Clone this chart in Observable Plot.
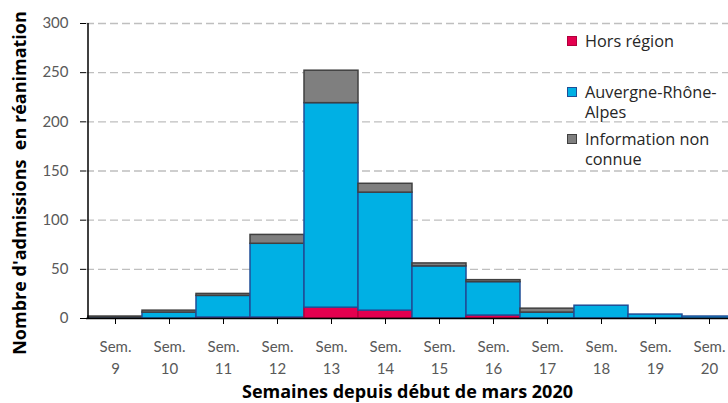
<!DOCTYPE html>
<html><head><meta charset="utf-8">
<script src="https://cdn.jsdelivr.net/npm/d3@7"></script>
<script src="https://cdn.jsdelivr.net/npm/@observablehq/plot@0.6"></script>
<style>
html,body{margin:0;padding:0;overflow:hidden;background:#fff;}
#wrap{position:relative;width:728px;height:403px;font-family:Lato,sans-serif;overflow:hidden;}
.leg{position:absolute;left:567px;width:160px;font-family:"Open Sans",sans-serif;font-size:16.3px;color:#262626;line-height:20px;}
.leg .sw{position:absolute;left:0;top:5px;width:8px;height:8px;border:1px solid;}
.leg .tx{position:absolute;left:18px;width:142px;}
</style></head><body><div id="wrap"></div>
<script>
const weeks = [9, 10, 11, 12, 13, 14, 15, 16, 17, 18, 19, 20];
const series = ["Hors région", "Auvergne-Rhône-Alpes", "Information non connue"];
const horsRegion = [0, 0, 1, 1, 11, 8, 0, 3, 0, 0, 0, 0];
const auvergneRhoneAlpes = [1, 6, 22, 75, 208, 120, 53, 34, 6, 13, 4, 2];
const infoNonConnue = [1, 2, 2, 9, 33, 9, 3, 2, 4, 0, 0, 0];
const yTicks = [0, 50, 100, 150, 200, 250, 300];
const yTitle = "Nombre d'admissions  en réanimation";
const xTitle = "Semaines depuis début de mars 2020";

const fills = ["#E4004F", "#00B0E4", "#7F7F7F"];
const strokes = ["#B0003C", "#1F4E96", "#404040"];
const valuesBySeries = [horsRegion, auvergneRhoneAlpes, infoNonConnue];

const rows = weeks.flatMap((w, i) => series.map((s, j) => ({week: w, series: s, value: valuesBySeries[j][i]})))
  .filter(d => d.value > 0);

const yAxisLine = (index, scales, values, dims) => {
  const l = document.createElementNS("http://www.w3.org/2000/svg", "line");
  const x = scales.x(weeks[0]);
  l.setAttribute("x1", x); l.setAttribute("x2", x);
  l.setAttribute("y1", scales.y(0)); l.setAttribute("y2", scales.y(300));
  l.setAttribute("stroke", "#000"); l.setAttribute("stroke-width", 1.5);
  return l;
};

const chart = Plot.plot({
  width: 728,
  height: 403,
  marginLeft: 86,
  marginTop: 23,
  marginBottom: 85,
  marginRight: 0,
  style: {fontFamily: "Lato, sans-serif", background: "#fff", overflow: "hidden"},
  x: {type: "band", domain: weeks, range: [86, 737.6], padding: 0},
  y: {domain: [0, 300], range: [318, 23]},
  color: {type: "identity"},
  marks: [
    Plot.ruleY(yTicks.filter(t => t > 0), {stroke: "#BFBFBF", strokeWidth: 1.3, strokeDasharray: "8,4"}),
    Plot.barY(rows, Plot.stackY({
      x: "week", y: "value", z: "series", order: series,
      fill: d => fills[series.indexOf(d.series)],
      stroke: d => strokes[series.indexOf(d.series)],
      strokeWidth: 1.5, inset: 0
    })),
    Plot.ruleY([0], {stroke: "#000", strokeWidth: 1.5}),
    yAxisLine,
    Plot.axisY(yTicks, {tickSize: 6, tickPadding: 12, fontSize: 15, fill: "#595959", stroke: "#000", label: null}),
    Plot.axisX({tickSize: 6, tickPadding: 12, fontSize: 15, lineHeight: 1.45, fill: "#595959", stroke: "#000",
      tickFormat: d => "Sem.\n" + d, label: null}),
    Plot.text([yTitle], {text: d => d, frameAnchor: "left", textAnchor: "middle", lineAnchor: "middle", dx: -66, dy: 12, rotate: -90,
      fontFamily: "Open Sans, sans-serif", fontSize: 18, fontWeight: "bold", fill: "#000"}),
    Plot.text([xTitle], {text: d => d, frameAnchor: "bottom", textAnchor: "middle", lineAnchor: "middle", dy: 74,
      fontFamily: "Open Sans, sans-serif", fontSize: 18, fontWeight: "bold", fill: "#000"})
  ]
});

const wrap = document.getElementById("wrap");
wrap.appendChild(chart);
const legTops = [31, 82, 129];
series.forEach((s, i) => {
  const d = document.createElement("div");
  d.className = "leg";
  d.style.top = legTops[i] + "px";
  const sw = document.createElement("div");
  sw.className = "sw";
  sw.style.background = fills[i];
  sw.style.borderColor = strokes[i];
  const tx = document.createElement("div");
  tx.className = "tx";
  tx.textContent = s;
  d.appendChild(sw); d.appendChild(tx);
  wrap.appendChild(d);
});
</script>
</body></html>
